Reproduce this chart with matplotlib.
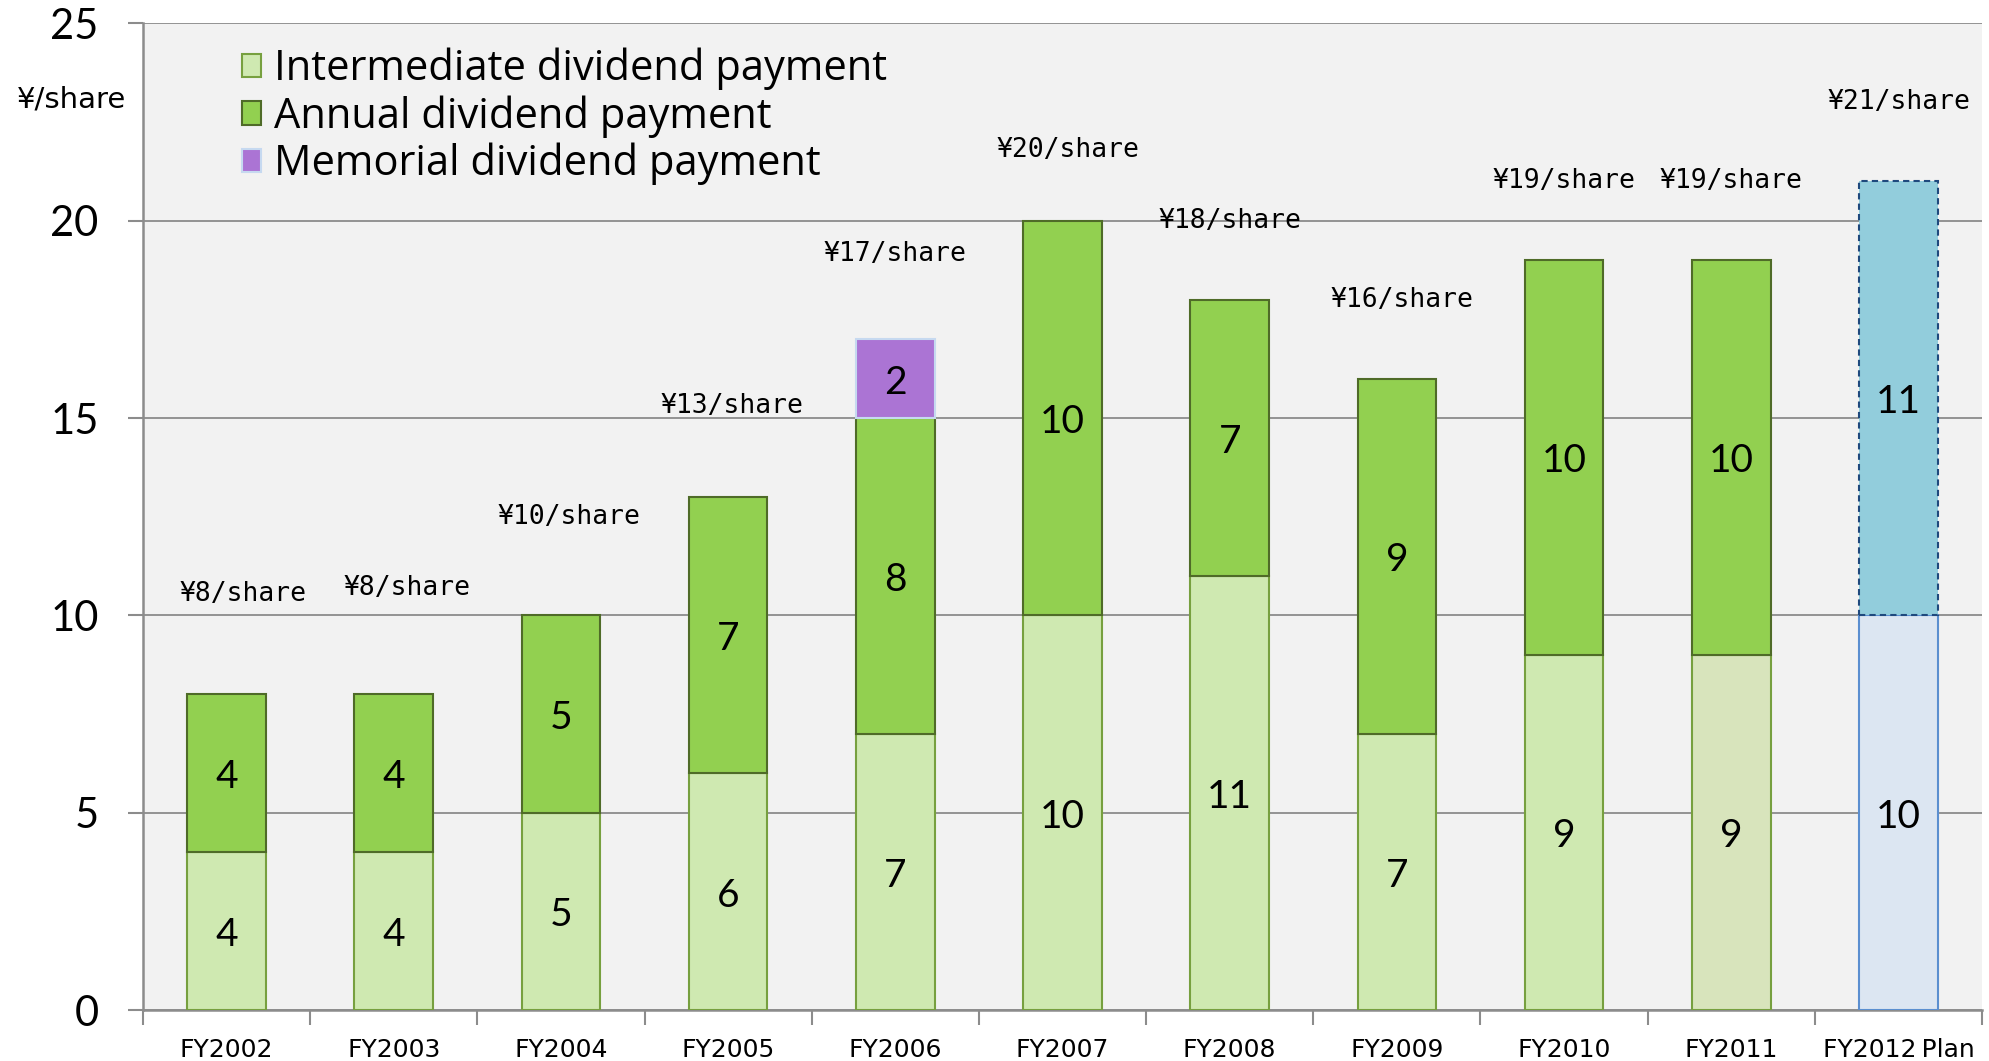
import matplotlib
matplotlib.use("Agg")
import matplotlib.pyplot as plt
from matplotlib.patches import Patch

# ===== data =====
years = ["FY2002", "FY2003", "FY2004", "FY2005", "FY2006", "FY2007",
         "FY2008", "FY2009", "FY2010", "FY2011", "FY2012\u2009Plan"]
intermediate = [4, 4, 5, 6, 7, 10, 11, 7, 9, 9, 10]
annual       = [4, 4, 5, 7, 8, 10, 7, 9, 10, 10, 11]
memorial     = [0, 0, 0, 0, 2, 0, 0, 0, 0, 0, 0]
totals       = [8, 8, 10, 13, 17, 20, 18, 16, 19, 19, 21]

# where the "¥xx/share" labels sit (layout only)
label_y  = [10.55, 10.7, 12.5, 15.3, 19.15, 21.8, 20.0, 18.0, 21.0, 21.0, 23.0]
label_dx = [0.1, 0.08, 0.05, 0.02, 0.0, 0.03, 0.0, 0.03, 0.0, 0.0, 0.0]

# ===== colours =====
c_inter, e_inter = "#cfe9b1", "#77a03f"
c_annual, e_annual = "#92d050", "#4f6b28"
c_memo, e_memo = "#ab74d4", "#c6d9f0"
plan = len(years) - 1

fig = plt.figure(figsize=(19.89, 10.61), dpi=100)
ax = fig.add_axes([0.0719, 0.048, 0.9246, 0.930])
ax.set_facecolor("#f2f2f2")

x = list(range(len(years)))
w = 0.47

inter_fc = [c_inter] * len(years)
inter_fc[9] = "#d8e4bc"
inter_fc[plan] = "#dce6f2"
inter_ec = [e_inter] * len(years)
inter_ec[plan] = "#5b8fd0"
ax.bar(x, intermediate, w, color=inter_fc, edgecolor=inter_ec, linewidth=1.5, zorder=3)

ann_fc = [c_annual] * len(years)
ann_fc[plan] = "#92cddc"
ann_ec = [e_annual] * len(years)
ann_ec[plan] = "#1f497d"
bars_a = ax.bar(x, annual, w, bottom=intermediate, color=ann_fc, edgecolor=ann_ec,
                linewidth=1.5, zorder=3)
bars_a[plan].set_linestyle((0, (3, 2)))

base_m = [i + a for i, a in zip(intermediate, annual)]
memo_ec = [e_memo if m else "none" for m in memorial]
ax.bar(x, memorial, w, bottom=base_m, color=c_memo, edgecolor=memo_ec,
       linewidth=1.5, zorder=3)

num_font = dict(ha="center", va="center", fontsize=28, family="Lato", zorder=4)
# segment values
for i in x:
    ax.text(i, intermediate[i] / 2 - 0.1, str(intermediate[i]), **num_font)
    ax.text(i, intermediate[i] + annual[i] / 2 - 0.1, str(annual[i]), **num_font)
    if memorial[i]:
        ax.text(i, base_m[i] + memorial[i] / 2 - 0.1, str(memorial[i]), **num_font)
    ax.text(i + label_dx[i], label_y[i], "¥%d/share" % totals[i], ha="center", va="center",
            fontsize=19, family=["DejaVu Sans Mono", "DejaVu Sans"], zorder=4)

ax.set_xlim(-0.5, len(years) - 0.5)
ax.set_ylim(0, 25)
ax.set_yticks([0, 5, 10, 15, 20, 25])
ax.yaxis.grid(True, color="#8c8c8c", linewidth=1.3, zorder=1)
ax.set_axisbelow(True)

ax.set_xticks(x)
ax.set_xticklabels(years, fontsize=18, family="Liberation Sans Narrow")
ax.set_xticks([i - 0.5 for i in range(len(years) + 1)], minor=True)
ax.tick_params(axis="x", which="major", length=0, pad=20)
ax.tick_params(axis="x", which="minor", length=11, width=1.5, color="#8c8c8c")
ax.tick_params(axis="y", length=11, width=1.5, color="#8c8c8c", pad=21, labelsize=30)
for lab in ax.get_yticklabels():
    lab.set_family("Lato")

for s in ["top", "right"]:
    ax.spines[s].set_visible(False)
for s in ["left", "bottom"]:
    ax.spines[s].set_color("#8c8c8c")
    ax.spines[s].set_linewidth(1.8)

fig.text(0.036, 0.906, "¥/share", ha="center", va="center", fontsize=21,
         family="Liberation Sans Narrow")

handles = [Patch(facecolor=c_inter, edgecolor=e_inter, linewidth=1.5),
           Patch(facecolor=c_annual, edgecolor=e_annual, linewidth=1.5),
           Patch(facecolor=c_memo, edgecolor=e_memo, linewidth=1.5)]
ax.legend(handles, ["Intermediate dividend payment", "Annual dividend payment",
                    "Memorial dividend payment"],
          loc="upper left", bbox_to_anchor=(0.045, 0.992), frameon=False,
          prop={"family": "Open Sans", "size": 30}, handlelength=0.45, handleheight=0.5,
          handletextpad=0.3, labelspacing=0.12, borderaxespad=0)

plt.savefig("out.png", dpi=100)
plt.close()
